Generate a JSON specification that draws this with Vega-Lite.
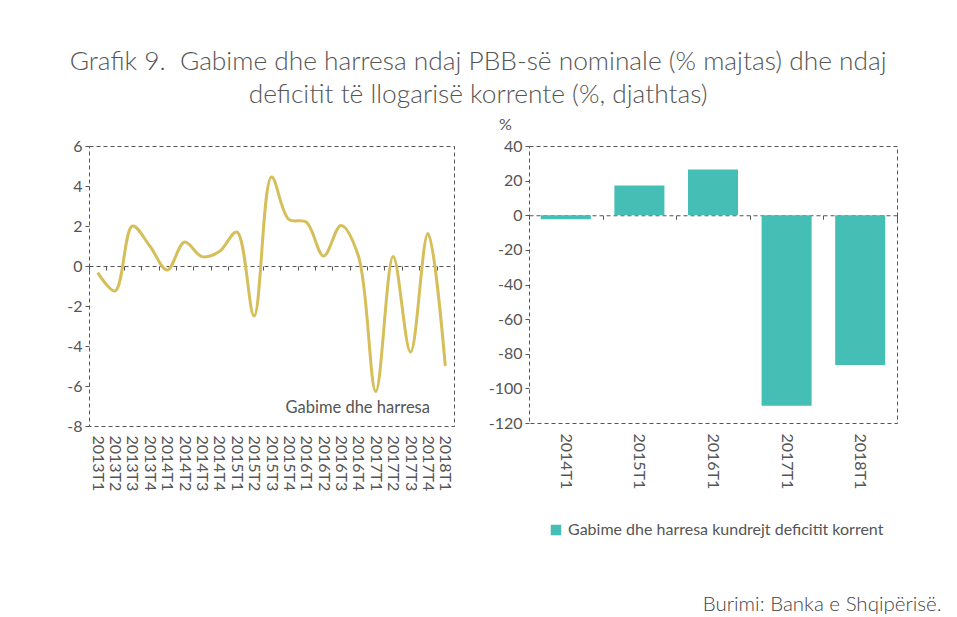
{
  "$schema": "https://vega.github.io/schema/vega-lite/v6.json",
  "background": "white",
  "padding": {"left": 66, "top": 49, "right": 5, "bottom": 5},
  "title": {
    "text": ["Grafik 9.\u00a0 Gabime dhe harresa ndaj PBB-së nominale (% majtas) dhe ndaj", "deficitit të llogarisë korrente (%, djathtas)"],
    "fontSize": 26.3, "font": "Lato", "fontWeight": 300, "color": "#555", "lineHeight": 33,
    "anchor": "middle", "offset": 7, "dx": -26
  },
  "bounds": "flush",
  "spacing": 75,
  "config": {
    "view": {"stroke": "#555", "strokeDash": [4, 3], "strokeWidth": 1},
    "axis": {"labelFont": "Lato", "labelColor": "#555", "grid": false, "labelFontSize": 15, "titleFont": "Lato", "titleColor": "#555"},
    "legend": {"labelFont": "Lato", "labelColor": "#555"}
  },
  "resolve": {"scale": {"color": "independent"}, "legend": {"color": "independent"}},
  "datasets": {
    "errors": [
      {"q": "2013T1", "v": -0.33}, {"q": "2013T2", "v": -1.25}, {"q": "2013T3", "v": 2.0}, {"q": "2013T4", "v": 1.0},
      {"q": "2014T1", "v": -0.2}, {"q": "2014T2", "v": 1.2}, {"q": "2014T3", "v": 0.47}, {"q": "2014T4", "v": 0.72},
      {"q": "2015T1", "v": 1.7}, {"q": "2015T2", "v": -2.5}, {"q": "2015T3", "v": 4.45}, {"q": "2015T4", "v": 2.33},
      {"q": "2016T1", "v": 2.2}, {"q": "2016T2", "v": 0.5}, {"q": "2016T3", "v": 2.03}, {"q": "2016T4", "v": 0.5},
      {"q": "2017T1", "v": -6.27}, {"q": "2017T2", "v": 0.47}, {"q": "2017T3", "v": -4.3}, {"q": "2017T4", "v": 1.63},
      {"q": "2018T1", "v": -5.0}
    ],
    "deficit": [
      {"y": "2014T1", "v": -2.3}, {"y": "2015T1", "v": 17.2}, {"y": "2016T1", "v": 26.4},
      {"y": "2017T1", "v": -110}, {"y": "2018T1", "v": -86.5}
    ]
  },
  "hconcat": [
    {
      "width": 365, "height": 280,
      "data": {"name": "errors"},
      "encoding": {
        "y": {"field": "v", "type": "quantitative", "scale": {"domain": [-8, 6], "nice": false},
          "axis": {"title": null, "values": [-8, -6, -4, -2, 0, 2, 4, 6], "labelOverlap": false, "labelFlush": false, "labelBound": false,
            "labelExpr": "replace(datum.label, '−', '-')", "domain": false, "tickSize": 4, "tickColor": "#555", "labelPadding": 3, "labelFontSize": 16}}
      },
      "layer": [
        {
          "mark": {"type": "line", "interpolate": "catmull-rom", "strokeWidth": 3},
          "encoding": {
            "x": {"field": "q", "type": "ordinal", "sort": null, "bandPosition": 0.5,
              "scale": {"type": "band", "paddingInner": 0, "paddingOuter": 0},
              "axis": {"title": null, "labelAngle": 90, "ticks": false, "domain": false, "labelPadding": 9, "labelFontSize": 16}},
            "color": {"datum": "Gabime dhe harresa", "scale": {"range": ["#D6BF5A"]},
              "legend": {"title": null, "orient": "none", "legendX": 176, "legendY": 254, "symbolOpacity": 0, "symbolSize": 0, "labelFontSize": 16.5, "labelLimit": 0}}
          }
        },
        {
          "mark": {"type": "point", "opacity": 0},
          "encoding": {
            "x": {"field": "q", "type": "ordinal", "sort": null,
              "axis": {"title": null, "orient": "bottom", "offset": -160, "labels": false, "tickBand": "extent", "tickSize": 4, "tickColor": "#555", "domainColor": "#555", "domainDash": [4, 3]}}
          }
        }
      ],
      "resolve": {"axis": {"x": "independent"}}
    },
    {
      "width": 368, "height": 277,
      "data": {"name": "deficit"},
      "title": {"text": "Burimi: Banka e Shqipërisë.", "orient": "bottom", "anchor": "end", "fontSize": 20.5, "font": "Lato", "fontWeight": 300, "color": "#444", "dx": 44, "offset": 57},
      "encoding": {
        "y": {"field": "v", "type": "quantitative", "scale": {"domain": [-120, 40], "nice": false},
          "axis": {"title": "%", "titleAngle": 0, "titleX": -24, "titleY": -14, "titleFontSize": 16, "titleFontWeight": "normal", "titleAlign": "center",
            "values": [-120, -100, -80, -60, -40, -20, 0, 20, 40], "labelOverlap": false, "labelFlush": false, "labelBound": false,
            "labelExpr": "replace(datum.label, '−', '-')", "domain": false, "tickSize": 4, "tickColor": "#555", "labelPadding": 3, "labelFontSize": 16}}
      },
      "layer": [
        {
          "mark": {"type": "bar", "width": {"band": 0.68}},
          "encoding": {
            "x": {"field": "y", "type": "ordinal", "sort": null,
              "scale": {"type": "band", "paddingInner": 0, "paddingOuter": 0},
              "axis": {"title": null, "labelAngle": 90, "ticks": false, "domain": false, "labelPadding": 10, "labelFontSize": 16}},
            "color": {"datum": "Gabime dhe harresa kundrejt deficitit korrent", "scale": {"range": ["#45BFB5"]},
              "legend": {"title": null, "orient": "none", "legendX": 19, "legendY": 376, "symbolType": "square", "symbolSize": 110, "symbolStrokeWidth": 0, "labelFontSize": 16, "labelLimit": 0, "labelOffset": 4}}
          }
        },
        {
          "mark": {"type": "point", "opacity": 0},
          "encoding": {
            "x": {"field": "y", "type": "ordinal", "sort": null,
              "axis": {"title": null, "orient": "bottom", "offset": -207.75, "labels": false, "tickBand": "extent", "tickSize": 4, "tickColor": "#555", "domainColor": "#555", "domainDash": [4, 3]}}
          }
        }
      ],
      "resolve": {"axis": {"x": "independent"}}
    }
  ]
}
